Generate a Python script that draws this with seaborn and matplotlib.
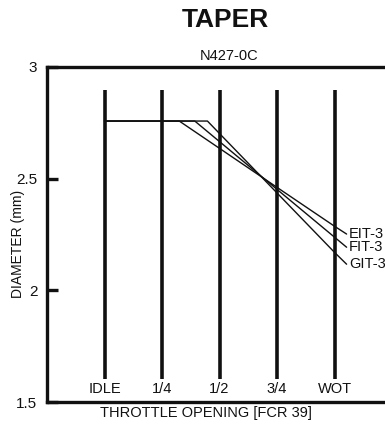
import numpy as np
import matplotlib
matplotlib.use("Agg")
import matplotlib.pyplot as plt
import pandas as pd
import seaborn as sns

# throttle positions (0 = IDLE ... 4 = WOT)
positions = [0, 1, 2, 3, 4]
position_labels = ["IDLE", "1/4", "1/2", "3/4", "WOT"]

# needle taper curves
series_names = ["EIT-3", "FIT-3", "GIT-3"]
eit_x = [0, 1.30, 3, 4, 4.21]
eit_y = [2.758, 2.758, 2.461, 2.287, 2.252]
fit_x = [0, 1.57, 3, 4, 4.21]
fit_y = [2.758, 2.758, 2.452, 2.238, 2.193]
git_x = [0, 1.79, 3, 4, 4.21]
git_y = [2.758, 2.758, 2.436, 2.170, 2.117]

yticks = [1.5, 2, 2.5, 3]
ytick_labels = ["1.5", "2", "2.5", "3"]

sns.set_style("white")
plt.rcParams['font.family'] = ['Liberation Sans', 'DejaVu Sans']

rows = []
for name, xs, ys in zip(series_names, [eit_x, fit_x, git_x], [eit_y, fit_y, git_y]):
    for x, y in zip(xs, ys):
        rows.append({"pos": x, "diam": y, "needle": name})
df = pd.DataFrame(rows)

fig = plt.figure(figsize=(3.85, 4.30), dpi=100)
W, H = 385, 430
ax = fig.add_axes([47 / W, 1 - 402 / H, 364 / W, 335 / H])

ax.vlines(positions, 1.605, 2.897, color="#111111", lw=2.6)

sns.lineplot(data=df, x="pos", y="diam", units="needle", estimator=None,
             color="#111111", lw=1.0, sort=False, ax=ax, legend=False)

for name, xs, ys in zip(series_names, [eit_x, fit_x, git_x], [eit_y, fit_y, git_y]):
    ax.text(xs[-1] + 0.04, ys[-1], name, fontsize=10.5, va="center", ha="left",
            color="#111111")

for p, lab in zip(positions, position_labels):
    ax.text(p, 1.557, lab, fontsize=10.5, ha="center", va="center", color="#111111")

ax.set_xlim(-1, 5.33)
ax.set_ylim(1.5, 3)
ax.set_xticks([])
ax.set_yticks(yticks)
ax.set_yticklabels(ytick_labels, fontsize=11)
ax.tick_params(axis="y", left=True, direction="in", length=8, width=2.4,
               color="#111111", labelcolor="#111111", pad=7)
for side in ["left", "top", "bottom"]:
    ax.spines[side].set_linewidth(2.4)
    ax.spines[side].set_color("#111111")
ax.spines["right"].set_visible(False)

ax.set_ylabel("")
fig.text(18 / W, 1 - 244 / H, "DIAMETER (mm)", fontsize=10, color="#111111",
         rotation=90, ha="center", va="center")
ax.set_xlabel("THROTTLE OPENING [FCR 39]", fontsize=10.5, color="#111111",
              x=0.437, labelpad=3)
ax.set_title("N427-0C", fontsize=10.5, color="#111111", pad=5)
fig.text(225 / W, 1 - 20 / H, "TAPER", fontsize=19, fontweight="bold",
         ha="center", va="center", color="#111111")

fig.savefig("out.png", dpi=100)
